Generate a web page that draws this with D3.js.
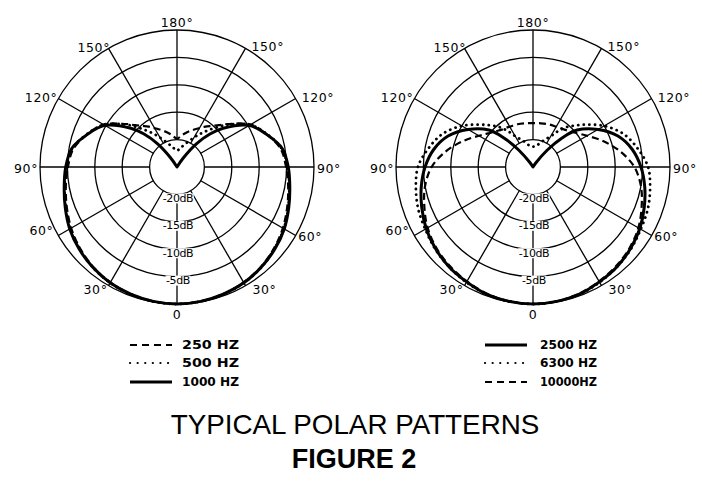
<!DOCTYPE html>
<html><head><meta charset="utf-8">
<script src="https://cdn.jsdelivr.net/npm/d3@7"></script>
<style>body{margin:0;background:#fff;} svg{display:block;}</style>
</head><body>
<svg id="chart" width="702" height="486"></svg>
<script>
// ---- data (angle in degrees from the front, 0 = bottom; level in dB, symmetric pattern) ----
const angles = [0,10,20,30,40,50,60,70,80,90,100,110,120,130,135,140,145,150,160,170,180];
const hz250   = [0,-0.1,-0.3,-0.7,-1.2,-1.9,-2.7,-3.6,-4.4,-5.1,-5.8,-7.6,-9.5,-12.8,-14.2,-15.2,-16.0,-16.8,-18.0,-19.0,-19.8];
const hz500   = [0,-0.1,-0.3,-0.6,-1.1,-1.8,-2.5,-3.4,-4.2,-4.8,-5.6,-7.5,-9.6,-13.0,-14.8,-16.3,-17.6,-18.8,-20.5,-21.5,-22.0];
const hz1000  = [0,-0.1,-0.3,-0.6,-1.1,-1.7,-2.4,-3.3,-4.1,-4.7,-5.5,-7.6,-9.8,-14.0,-16.5,-19.5,-23.0,-25,-25,-25,-25];
const hz2500  = [0,-0.1,-0.3,-0.8,-1.2,-1.8,-2.5,-3.4,-4.3,-5.3,-6.6,-8.5,-11.3,-14.5,-17.5,-21.0,-24.0,-25,-25,-25,-25];
const hz6300  = [0,-0.1,-0.3,-0.7,-1.2,-1.7,-2.3,-2.7,-3.3,-4.0,-5.6,-7.4,-10.0,-13.0,-14.3,-15.5,-17.0,-18.5,-20.0,-21.0,-21.3];
const hz10000 = [0,-0.1,-0.4,-0.9,-1.4,-2.0,-2.8,-3.9,-5.0,-6.5,-8.8,-11.3,-13.6,-15.2,-15.7,-16.1,-16.3,-16.5,-16.7,-16.9,-17.0];

const ringDb = [-20,-15,-10,-5,0];
const dbLabels = ["-20dB","-15dB","-10dB","-5dB"];
const spokeAngles = [30,60,90,120,150];
const angleLabels = ["30°","60°","90°","120°","150°"];
const topLabel = "180°", bottomLabel = "0";
const leftNames = ["250 HZ","500 HZ","1000 HZ"];
const rightNames = ["2500 HZ","6300 HZ","10000HZ"];
const title = "TYPICAL POLAR PATTERNS";
const subtitle = "FIGURE 2";

// ---- layout ----
const svg = d3.select("#chart");
const R = 137;
const r = d3.scaleLinear().domain([-25, 0]).range([0, R]).clamp(true);
const font = "'DejaVu Sans', sans-serif";

const styles = {
  solid:  {w: 3.0, dash: null, cap: "butt"},
  dashed: {w: 2.2, dash: "7,4", cap: "butt"},
  dotted: {w: 2.8, dash: "0.1,5.5", cap: "round"}
};

// label offsets relative to spoke end: [dx, dy(center)] for left side (anchor end) and right (anchor start)
const leftOff  = {30: [-1, 4], 60: [-5, -5], 90: [-2, 1], 120: [-1, -1], 150: [1.5, -1]};
const rightOff = {30: [7, 4], 60: [2.5, 1], 90: [3, 1], 120: [6, -1], 150: [6, -2]};

function drawPolar(cx, cy, series, legendX, legendNames) {
  const g = svg.append("g").attr("transform", `translate(${cx},${cy})`);
  // rings
  g.selectAll("circle.ring").data(ringDb).join("circle")
    .attr("r", d => r(d)).attr("fill", "none").attr("stroke", "#000").attr("stroke-width", 1.3);
  // spokes
  const all = [0, 180];
  spokeAngles.forEach(a => { all.push(a); all.push(360 - a); });
  g.selectAll("line.spoke").data(all).join("line")
    .attr("x1", d => -r(-20) * Math.sin(d * Math.PI / 180))
    .attr("y1", d => r(-20) * Math.cos(d * Math.PI / 180))
    .attr("x2", d => -R * Math.sin(d * Math.PI / 180))
    .attr("y2", d => R * Math.cos(d * Math.PI / 180))
    .attr("stroke", "#000").attr("stroke-width", 1.3);
  // dB labels on the front axis
  dbLabels.forEach((t, i) => {
    const y = r(ringDb[i]) + 4;
    const txt = g.append("text").attr("x", 1).attr("y", y)
      .attr("text-anchor", "middle").attr("dominant-baseline", "central")
      .attr("font-family", font).attr("font-size", 11).attr("letter-spacing", -0.4)
      .text(t);
    const bb = txt.node().getBBox();
    g.insert("rect", "text").attr("x", bb.x - 0.5).attr("y", bb.y + 1.5)
      .attr("width", bb.width + 1).attr("height", bb.height - 3).attr("fill", "#fff");
  });
  // angle labels
  const lab = (x, y, t, anchor) => g.append("text").attr("x", x).attr("y", y)
      .attr("text-anchor", anchor).attr("dominant-baseline", "central")
      .attr("font-family", font).attr("font-size", 12.5).attr("letter-spacing", 0.6)
      .text(t);
  spokeAngles.forEach((a, i) => {
    const ex = R * Math.sin(a * Math.PI / 180), ey = R * Math.cos(a * Math.PI / 180);
    lab(-ex + leftOff[a][0], ey + leftOff[a][1], angleLabels[i], "end");
    lab(ex + rightOff[a][0], ey + rightOff[a][1], angleLabels[i], "start");
  });
  lab(0, -R - 8, topLabel, "middle");
  lab(0, R + 10, bottomLabel, "middle");

  // curves
  const line = d3.lineRadial()
    .angle(d => Math.PI + d.t * Math.PI / 180)
    .radius(d => r(d.v))
    .curve(d3.curveCatmullRomClosed.alpha(0.5));
  series.forEach(s => {
    const pts = angles.map((t, i) => ({t, v: s.values[i]}));
    for (let i = angles.length - 2; i >= 1; i--) pts.push({t: 360 - angles[i], v: s.values[i]});
    const st = styles[s.style];
    g.append("path").attr("d", line(pts)).attr("fill", "none").attr("stroke", "#000")
      .attr("stroke-width", st.w).attr("stroke-dasharray", st.dash).attr("stroke-linecap", st.cap)
      .attr("stroke-linejoin", "round");
  });

  // legend
  const rowsY = [345, 363, 382];
  series.forEach((s, i) => {
    const st = styles[s.style];
    svg.append("line").attr("x1", legendX).attr("x2", legendX + 42)
      .attr("y1", rowsY[i]).attr("y2", rowsY[i])
      .attr("stroke", "#000").attr("stroke-width", s.style === "solid" ? 2.8 : 2.2)
      .attr("stroke-dasharray", s.style === "dashed" ? "7,5" : (s.style === "dotted" ? "0.1,7.5" : null))
      .attr("stroke-linecap", st.cap);
    svg.append("text").attr("x", legendX + (legendX < 300 ? 52 : 55)).attr("y", rowsY[i])
      .attr("dominant-baseline", "central").attr("font-family", font)
      .attr("font-size", 12).attr("font-weight", "bold")
      .attr("textLength", 57).attr("lengthAdjust", "spacingAndGlyphs")
      .text(legendNames[i]);
  });
}

drawPolar(177, 167, [
  {values: hz250, style: "dashed"},
  {values: hz500, style: "dotted"},
  {values: hz1000, style: "solid"}
], 130, leftNames);

drawPolar(533, 167, [
  {values: hz2500, style: "solid"},
  {values: hz6300, style: "dotted"},
  {values: hz10000, style: "dashed"}
], 485, rightNames);

svg.append("text").attr("x", 355).attr("y", 434).attr("text-anchor", "middle")
  .attr("font-family", "'Liberation Sans', Arial, sans-serif").attr("font-size", 27.8)
  .text(title);
svg.append("text").attr("x", 354).attr("y", 468).attr("text-anchor", "middle")
  .attr("font-family", "'Liberation Sans', Arial, sans-serif").attr("font-size", 27).attr("font-weight", "bold")
  .text(subtitle);
</script>
</body></html>
